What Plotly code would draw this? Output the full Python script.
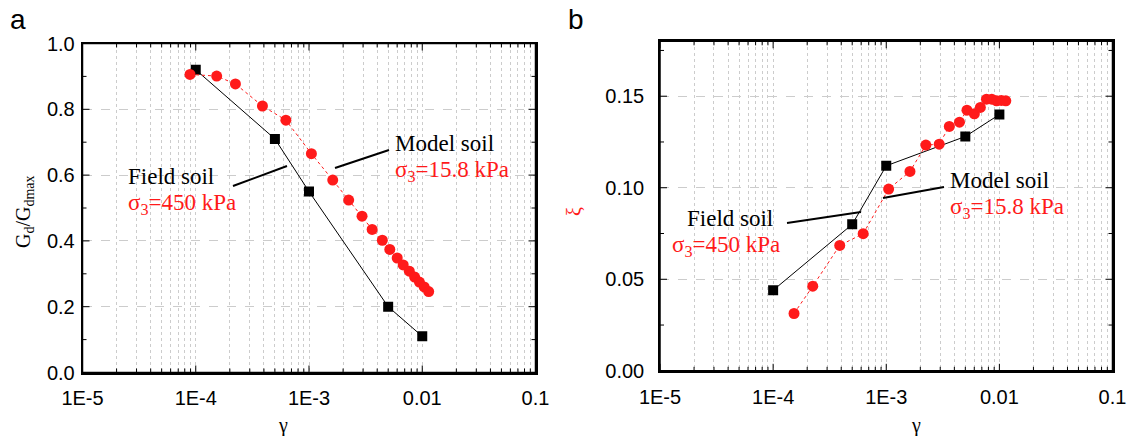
import math
import plotly.graph_objects as go

# Shear strain amplitudes
gamma_field = [1e-4, 5e-4, 1e-3, 5e-3, 1e-2]
gamma_model = [8.9e-5, 1.53e-4, 2.24e-4, 3.88e-4, 6.25e-4, 1.05e-3, 1.62e-3,
               2.24e-3, 2.94e-3, 3.61e-3, 4.44e-3, 5.17e-3, 6.01e-3, 6.79e-3,
               7.69e-3, 8.57e-3, 9.44e-3, 1.04e-2, 1.14e-2]

# (a) normalised shear modulus
g_field = [0.92, 0.71, 0.55, 0.20, 0.11]
g_model = [0.906, 0.901, 0.877, 0.810, 0.767, 0.665, 0.585, 0.524, 0.475,
           0.435, 0.402, 0.374, 0.348, 0.327, 0.308, 0.290, 0.275, 0.260, 0.246]

# (b) damping ratio (model soil starts at the second strain level)
xi_field = [0.044, 0.080, 0.112, 0.128, 0.140]
xi_model = [0.0313, 0.0462, 0.0685, 0.0749, 0.0993, 0.1089, 0.1233, 0.1238,
            0.1335, 0.1358, 0.1424, 0.1404, 0.1439, 0.1484, 0.1484, 0.1475,
            0.1477, 0.1475]

x_tickvals = [1e-5, 1e-4, 1e-3, 1e-2, 1e-1]
x_ticktext = ["1E-5", "1E-4", "1E-3", "0.01", "0.1"]
x_minor = [m * 10 ** e for e in range(-5, -1) for m in range(2, 10)]
X_LOG_RANGE = [-5, -1]

ya_range, ya_major, ya_minor = [0, 1.0], 0.2, 0.1
yb_range, yb_major, yb_minor = [0, 0.18], 0.05, 0.025

W, H = 1129, 436
RED = "#ff1a1a"
GRID = "#cccccc"
SERIF = "Liberation Serif, Times New Roman, serif"
SANS = "Liberation Sans, Arial, sans-serif"


def px(x):
    return x / W


def py(y):
    return 1 - y / H


fig = go.Figure(layout=dict(template="none"))

fig.add_trace(go.Scatter(x=gamma_field, y=g_field, mode="lines+markers",
                         line=dict(color="black", width=1),
                         marker=dict(symbol="square", size=10, color="black"),
                         xaxis="x", yaxis="y", showlegend=False))
fig.add_trace(go.Scatter(x=gamma_model, y=g_model, mode="lines+markers",
                         line=dict(color=RED, width=1, dash="dot"),
                         marker=dict(symbol="circle", size=11, color=RED),
                         xaxis="x", yaxis="y", showlegend=False))
fig.add_trace(go.Scatter(x=gamma_field, y=xi_field, mode="lines+markers",
                         line=dict(color="black", width=1),
                         marker=dict(symbol="square", size=10, color="black"),
                         xaxis="x2", yaxis="y2", showlegend=False))
fig.add_trace(go.Scatter(x=gamma_model[1:], y=xi_model, mode="lines+markers",
                         line=dict(color=RED, width=1, dash="dot"),
                         marker=dict(symbol="circle", size=11, color=RED),
                         xaxis="x2", yaxis="y2", showlegend=False))


def xaxis(domain, anchor):
    return dict(
        type="log", range=X_LOG_RANGE, domain=domain, anchor=anchor,
        tickmode="array", tickvals=x_tickvals, ticktext=x_ticktext,
        ticks="", ticklabelstandoff=7,
        showline=True, linecolor="#000000", linewidth=1.5, mirror=True,
        showgrid=True, gridcolor=GRID, griddash="dot", gridwidth=1,
        minor=dict(tickmode="array", tickvals=x_minor, ticks="",
                   showgrid=True, gridcolor=GRID, griddash="dot",
                   gridwidth=1),
        tickfont=dict(family=SANS, size=20, color="black"),
        zeroline=False,
    )


def yaxis(domain, anchor, rng, dtick, fmt, standoff):
    return dict(
        range=rng, domain=domain, anchor=anchor,
        tickmode="linear", tick0=0, dtick=dtick, tickformat=fmt,
        ticks="", ticklabelstandoff=standoff,
        showline=True, linecolor="#000000", linewidth=1.5, mirror=True,
        showgrid=True, gridcolor=GRID, griddash="dash", gridwidth=1,
        tickfont=dict(family=SANS, size=20, color="black"),
        zeroline=False,
    )


fig.update_layout(
    width=W, height=H,
    margin=dict(l=0, r=0, t=0, b=0),
    paper_bgcolor="white", plot_bgcolor="white",
    xaxis=xaxis([px(82.5), px(535.5)], "y"),
    yaxis=yaxis([py(372.5), py(43.5)], "x", ya_range, ya_major, ".1f", 2),
    xaxis2=xaxis([px(660), px(1112.5)], "y2"),
    yaxis2=yaxis([py(370.8), py(41.3)], "x2", yb_range, yb_major, ".2f", 10),
)

annotations = []


def text(x, y, s, color="black", size=23, family=SERIF, angle=0,
         xanchor="left"):
    annotations.append(dict(x=px(x), y=py(y), xref="paper", yref="paper",
                            text=s, showarrow=False, xanchor=xanchor,
                            yanchor="middle", textangle=angle,
                            font=dict(family=family, size=size, color=color)))


# panel letters
text(8, 20, "a", family=SANS, size=28)
text(566, 20, "b", family=SANS, size=28)

# axis titles
text(283, 425, "γ", family=SERIF, size=20, xanchor="center")
text(916, 425, "γ", family=SERIF, size=20, xanchor="center")
text(24, 212, "G<sub>d</sub>/G<sub>dmax</sub>", family=SERIF, size=20,
     angle=-90, xanchor="center")
text(574, 212, "ξ", color=RED, family=SERIF, size=20, angle=-90,
     xanchor="center")

# panel a labels
text(126, 177, "Field soil")
text(126, 204, "σ<sub>3</sub>=450 kPa", color=RED)
text(393, 143, "Model soil")
text(393, 171, "σ<sub>3</sub>=15.8 kPa", color=RED)

# panel b labels
text(685, 218, "Field soil")
text(670, 246, "σ<sub>3</sub>=450 kPa", color=RED)
text(948, 180, "Model soil")
text(948, 208, "σ<sub>3</sub>=15.8 kPa", color=RED)

fig.update_layout(annotations=annotations)

shapes = []

# leader lines from labels to curves
leaders = [
    (233, 186, 287, 166),
    (335, 168, 389, 150),
    (787, 223, 861, 212),
    (883, 198, 944, 187),
]
for a, b, c, d in leaders:
    shapes.append(dict(type="line", xref="paper", yref="paper",
                       x0=px(a), y0=py(b), x1=px(c), y1=py(d),
                       line=dict(color="black", width=2)))

TICK = dict(color="black", width=1)


def add_ticks(xr, yr, yrange, ymajor, yminor):
    # inward tick marks on all four sides of a panel
    for vals, length in [(x_tickvals, 7), (x_minor, 4)]:
        for v in vals:
            f = (math.log10(v) - X_LOG_RANGE[0]) / (X_LOG_RANGE[1] - X_LOG_RANGE[0])
            for anchor, sign in [(0, 1), (1, -1)]:
                shapes.append(dict(type="line", xref=f"{xr} domain",
                                   yref=f"{yr} domain", ysizemode="pixel",
                                   yanchor=anchor, x0=f, x1=f, y0=0,
                                   y1=sign * length, line=TICK))
    n = int(round((yrange[1] - yrange[0]) / yminor))
    for i in range(n + 1):
        v = yrange[0] + i * yminor
        major = abs(v / ymajor - round(v / ymajor)) < 1e-6
        length = 7 if major else 4
        f = (v - yrange[0]) / (yrange[1] - yrange[0])
        for anchor, sign in [(0, 1), (1, -1)]:
            shapes.append(dict(type="line", xref=f"{xr} domain",
                               yref=f"{yr} domain", xsizemode="pixel",
                               xanchor=anchor, y0=f, y1=f, x0=0,
                               x1=sign * length, line=TICK))


add_ticks("x", "y", ya_range, ya_major, ya_minor)
add_ticks("x2", "y2", yb_range, yb_major, yb_minor)

# plot frames
for xr, yr in [("x", "y"), ("x2", "y2")]:
    shapes.append(dict(type="rect", xref=f"{xr} domain", yref=f"{yr} domain",
                       x0=0, y0=0, x1=1, y1=1, layer="above",
                       line=dict(color="black", width=1.5)))

fig.update_layout(shapes=shapes)

fig.write_html("out.html")
